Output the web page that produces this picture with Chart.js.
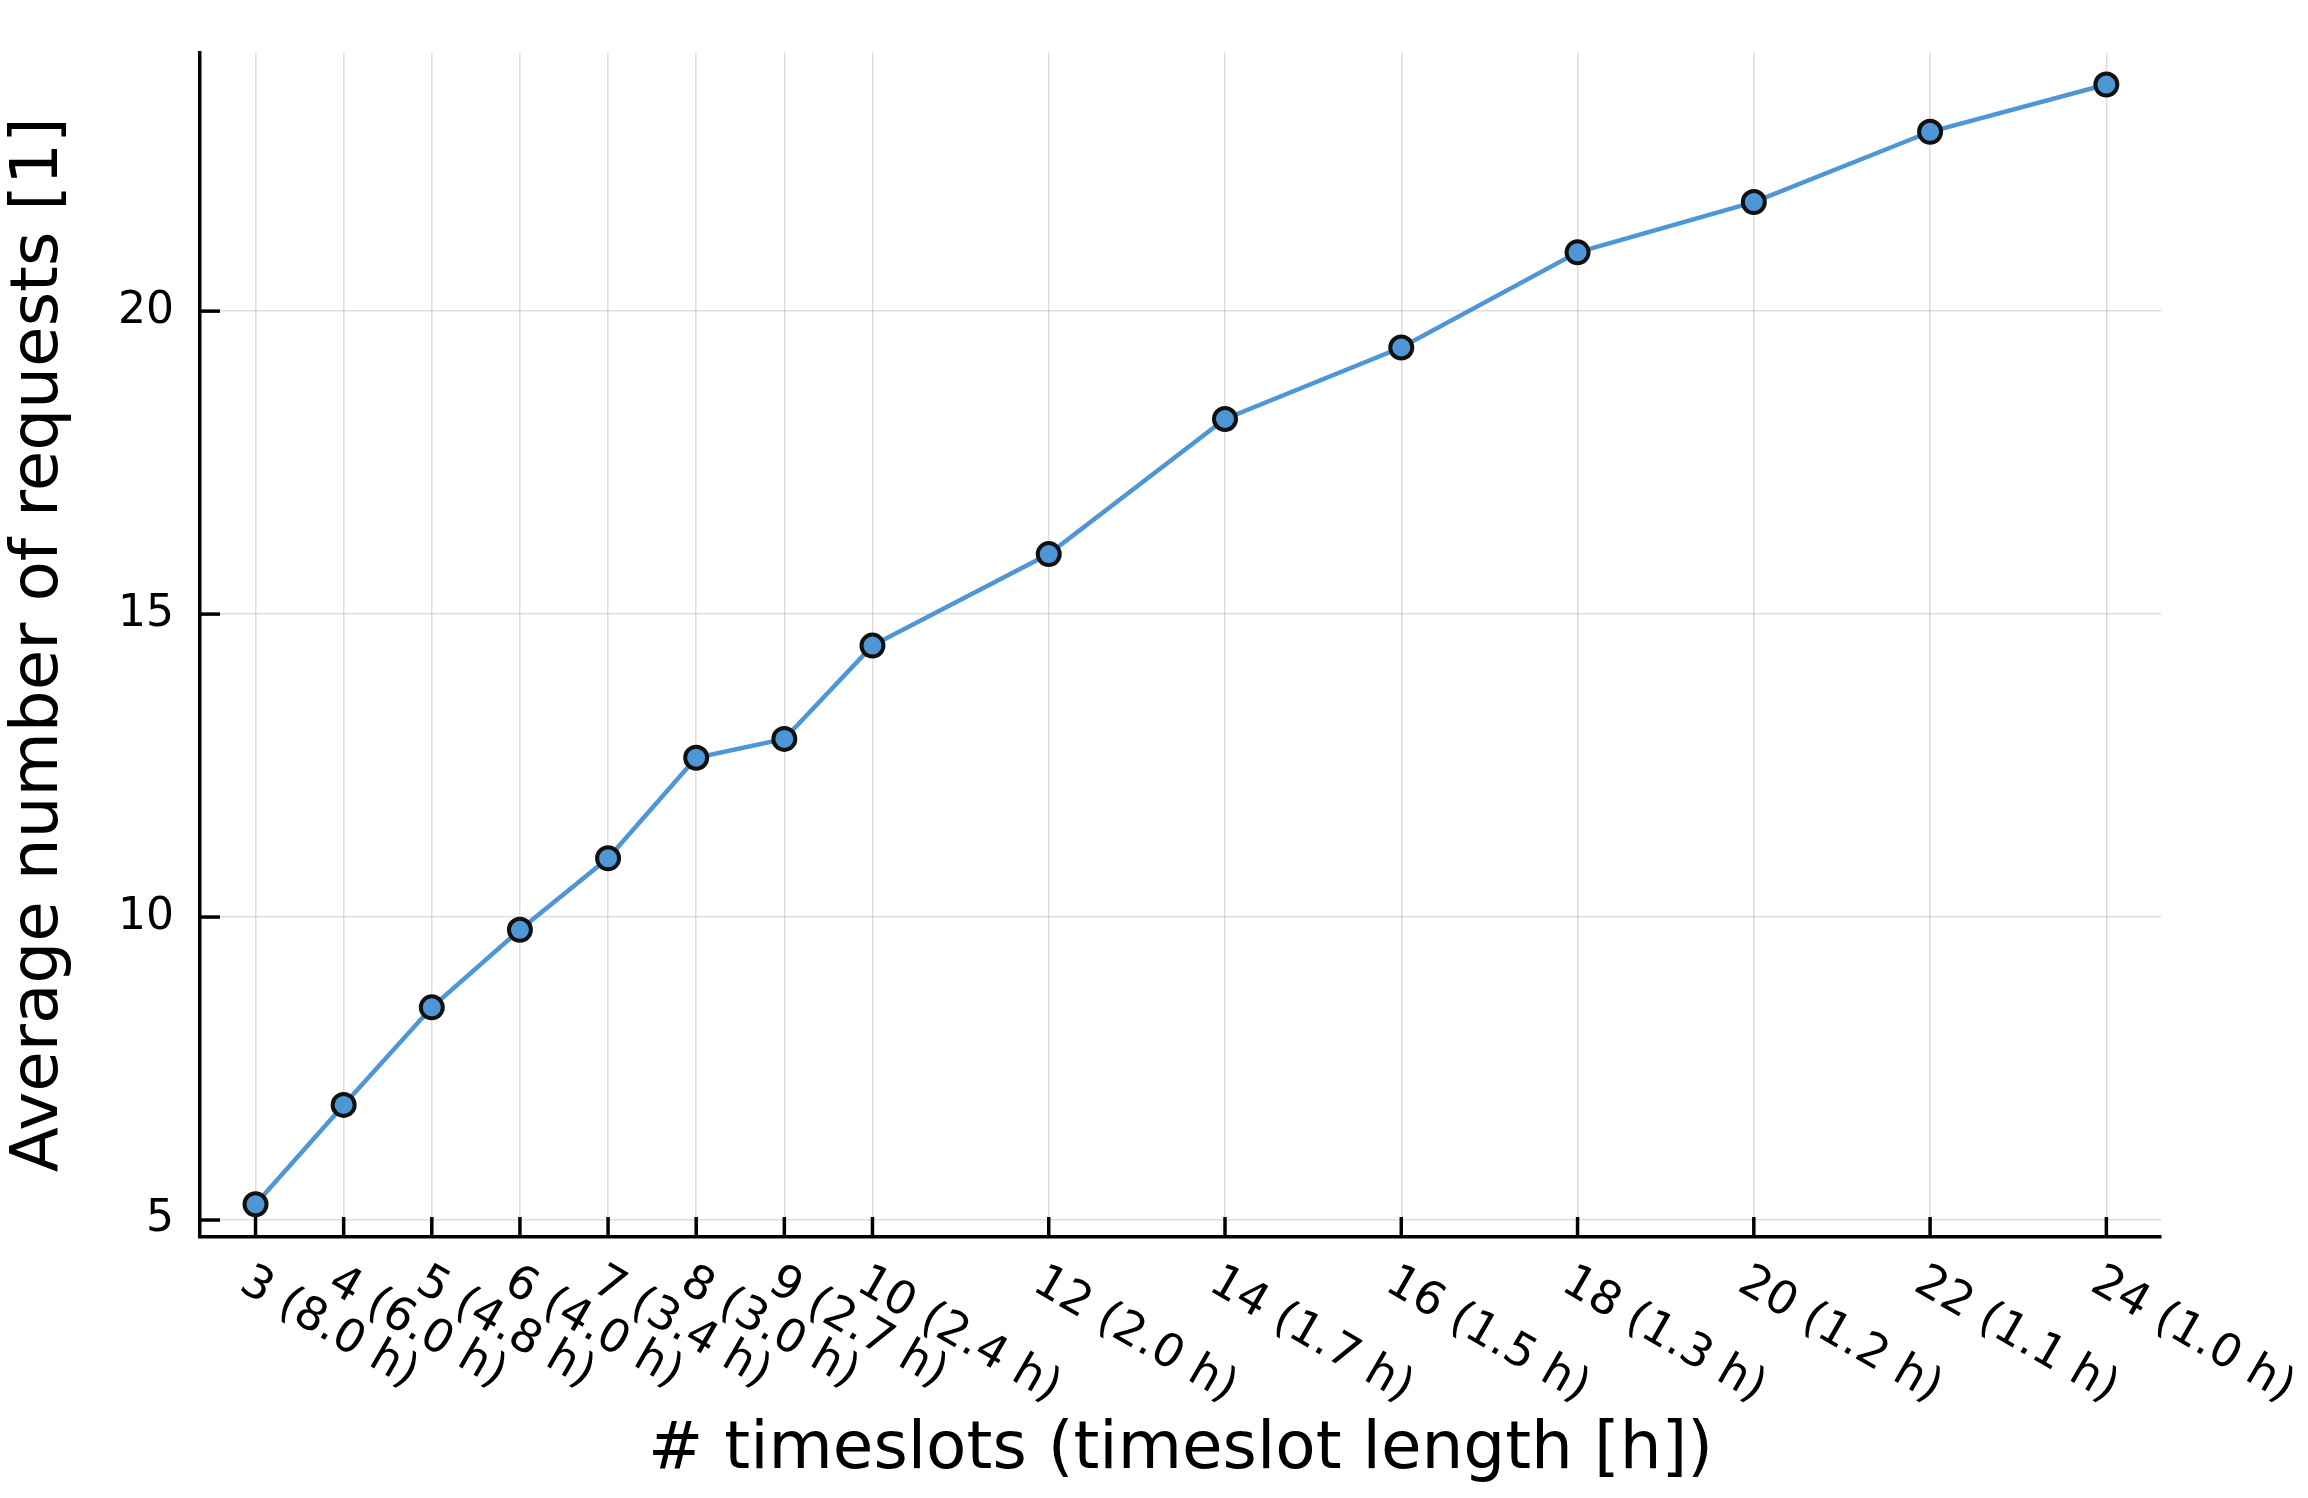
<!DOCTYPE html>
<html><head><meta charset="utf-8">
<script src="https://cdn.jsdelivr.net/npm/chart.js@4/dist/chart.umd.min.js"></script>
<style>body{margin:0;background:#fff}#wrap{width:2308px;height:1498px}</style>
</head><body><div id="wrap"><canvas id="chart"></canvas></div>
<script>
const slots = [3, 4, 5, 6, 7, 8, 9, 10, 12, 14, 16, 18, 20, 22, 24];
const slotLabels = ['3 (8.0 h)', '4 (6.0 h)', '5 (4.8 h)', '6 (4.0 h)', '7 (3.4 h)', '8 (3.0 h)', '9 (2.7 h)',
  '10 (2.4 h)', '12 (2.0 h)', '14 (1.7 h)', '16 (1.5 h)', '18 (1.3 h)', '20 (1.2 h)', '22 (1.1 h)', '24 (1.0 h)'];
const requests = [5.26, 6.9, 8.51, 9.79, 10.97, 12.63, 12.94, 14.48, 15.99, 18.22, 19.4, 20.97, 21.8, 22.96, 23.74];
const yTicks = [5, 10, 15, 20];

const FONT = 'DejaVu Sans';

// tick marks pointing inward + rotated x labels
const axisExtras = {
    id: 'axisExtras',
    afterDraw(chart) {
        const ctx = chart.ctx, x = chart.scales.x, y = chart.scales.y;
        const bottom = chart.chartArea.bottom, left = chart.chartArea.left;
        ctx.save();
        ctx.strokeStyle = '#000';
        ctx.lineWidth = 3.5;
        slots.forEach(v => {
            const px = x.getPixelForValue(v);
            ctx.beginPath(); ctx.moveTo(px, bottom); ctx.lineTo(px, bottom - 20); ctx.stroke();
        });
        yTicks.forEach(v => {
            const py = y.getPixelForValue(v);
            ctx.beginPath(); ctx.moveTo(left, py); ctx.lineTo(left + 20, py); ctx.stroke();
        });
        ctx.fillStyle = '#000';
        ctx.font = '46px ' + FONT;
        ctx.textAlign = 'left';
        ctx.textBaseline = 'middle';
        slots.forEach((v, i) => {
            const px = x.getPixelForValue(v);
            ctx.save();
            ctx.translate(px - 12, bottom + 42);
            ctx.rotate(Math.PI / 6);
            ctx.fillText(slotLabels[i], 0, 0);
            ctx.restore();
        });
        ctx.restore();
    }
};

new Chart(document.getElementById('chart'), {
    type: 'line',
    data: {
        datasets: [{
            data: slots.map((s, i) => ({ x: s, y: requests[i] })),
            borderColor: '#4f96d6',
            borderWidth: 4.5,
            pointRadius: 11,
            pointBorderWidth: 4,
            pointBackgroundColor: '#4f96d6',
            pointBorderColor: '#111',
            tension: 0
        }]
    },
    options: {
        responsive: true,
        maintainAspectRatio: false,
        animation: false,
        layout: { padding: { top: 10, right: 147, left: 0, bottom: 0 } },
        plugins: { legend: { display: false }, tooltip: { enabled: false } },
        scales: {
            x: {
                type: 'linear', min: 2.37, max: 24.62,
                afterBuildTicks: s => { s.ticks = slots.map(v => ({ value: v })); },
                afterFit: s => { s.height = 261; },
                ticks: { display: false },
                grid: { color: 'rgba(0,0,0,0.13)', lineWidth: 1.5, drawTicks: false },
                border: { color: '#000', width: 3.5 },
                title: {
                    display: true, text: '# timeslots (timeslot length [h])',
                    font: { family: FONT, size: 66 }, color: '#000',
                    padding: { top: 0, bottom: 8 }
                }
            },
            y: {
                min: 4.72, max: 24.27,
                afterBuildTicks: s => { s.ticks = yTicks.map(v => ({ value: v })); },
                afterFit: s => { s.width = 200; },
                ticks: { font: { family: FONT, size: 44 }, color: '#000', padding: 26 },
                grid: { color: 'rgba(0,0,0,0.13)', lineWidth: 1.5, drawTicks: false },
                border: { color: '#000', width: 3.5 },
                title: {
                    display: true, text: 'Average number of requests [1]',
                    font: { family: FONT, size: 66 }, color: '#000',
                    padding: { top: 0, bottom: 0 }
                }
            }
        }
    },
    plugins: [axisExtras]
});
</script></body></html>
